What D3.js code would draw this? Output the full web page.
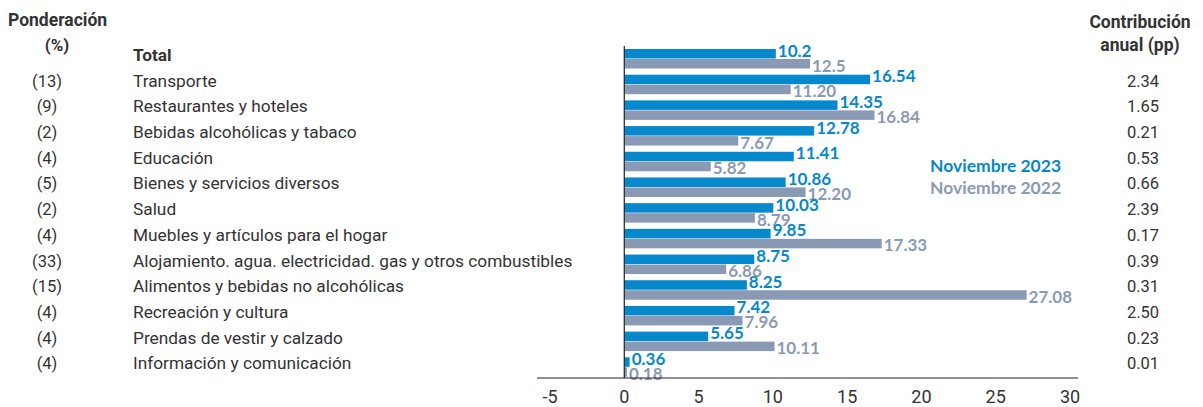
<!DOCTYPE html>
<html>
<head>
<meta charset="utf-8">
<script src="https://cdn.jsdelivr.net/npm/d3@7/dist/d3.min.js"></script>
<style>
  body { margin: 0; background: #fff; }
  text { font-family: Roboto, "Open Sans", sans-serif; }
  .val { font-family: Lato, Roboto, sans-serif; font-weight: bold; }
</style>
</head>
<body>
<svg id="chart" width="1203" height="407"></svg>
<script>
// categories, weights and contributions
var categories = ["Total", "Transporte", "Restaurantes y hoteles", "Bebidas alcohólicas y tabaco",
  "Educación", "Bienes y servicios diversos", "Salud", "Muebles y artículos para el hogar",
  "Alojamiento. agua. electricidad. gas y otros combustibles", "Alimentos y bebidas no alcohólicas",
  "Recreación y cultura", "Prendas de vestir y calzado", "Información y comunicación"];
var weights = ["", "(13)", "(9)", "(2)", "(4)", "(5)", "(2)", "(4)", "(33)", "(15)", "(4)", "(4)", "(4)"];
var nov2023 = [10.2, 16.54, 14.35, 12.78, 11.41, 10.86, 10.03, 9.85, 8.75, 8.25, 7.42, 5.65, 0.36];
var nov2022 = [12.5, 11.20, 16.84, 7.67, 5.82, 12.20, 8.79, 17.33, 6.86, 27.08, 7.96, 10.11, 0.18];
var contrib = ["", "2.34", "1.65", "0.21", "0.53", "0.66", "2.39", "0.17", "0.39", "0.31", "2.50", "0.23", "0.01"];
var xTicks = [-5, 0, 5, 10, 15, 20, 25, 30];

var blue = "#0588cc";
var grey = "#8a9ab4";
var ink = "#333333";

var svg = d3.select("#chart");

var x = d3.scaleLinear().domain([-5, 30]).range([550, 1070]);
var y = d3.scaleBand().domain(d3.range(categories.length)).range([44, 378]);
var barH = 9.5;

// headers
svg.append("text").attr("x", 8).attr("y", 26).attr("font-size", 17.5).attr("font-weight", "bold")
  .attr("fill", ink).text("Ponderación");
svg.append("text").attr("x", 57).attr("y", 51).attr("font-size", 17).attr("font-weight", "bold")
  .attr("text-anchor", "middle").attr("fill", ink).text("(%)");
svg.append("text").attr("x", 1140).attr("y", 28).attr("font-size", 17.5).attr("font-weight", "bold")
  .attr("text-anchor", "middle").attr("fill", ink).text("Contribución");
svg.append("text").attr("x", 1140).attr("y", 51).attr("font-size", 17.5).attr("font-weight", "bold")
  .attr("text-anchor", "middle").attr("fill", ink).text("anual (pp)");

var rows = svg.selectAll(".row")
  .data(categories)
  .enter()
  .append("g")
    .attr("class", "row")
    .attr("transform", function(d, i) { return "translate(0," + y(i) + ")"; });

rows.append("text")
  .attr("x", 133).attr("y", 17)
  .attr("font-size", 17.3)
  .attr("font-weight", function(d, i) { return i == 0 ? "bold" : "normal"; })
  .attr("fill", ink)
  .text(function(d) { return d; });

rows.append("text")
  .attr("x", 47).attr("y", 17).attr("text-anchor", "middle")
  .attr("font-size", 16.5).attr("fill", ink)
  .text(function(d, i) { return weights[i]; });

rows.append("text")
  .attr("x", 1143).attr("y", 17).attr("text-anchor", "middle")
  .attr("font-size", 16.5).attr("fill", ink)
  .text(function(d, i) { return contrib[i]; });

function fmt(v, i) { return i == 0 ? d3.format(".1f")(v) : d3.format(".2f")(v); }

// Nov 2023 bars
rows.append("rect")
  .attr("x", x(0)).attr("y", 5)
  .attr("width", function(d, i) { return x(nov2023[i]) - x(0); })
  .attr("height", barH).attr("fill", blue);

rows.append("text")
  .attr("class", "val")
  .attr("x", function(d, i) { return x(nov2023[i]) + 2; })
  .attr("y", 12.5)
  .attr("font-size", 17).attr("fill", blue)
  .text(function(d, i) { return fmt(nov2023[i], i); });

// Nov 2022 bars
rows.append("rect")
  .attr("x", x(0)).attr("y", 5 + barH + 0.5)
  .attr("width", function(d, i) { return x(nov2022[i]) - x(0); })
  .attr("height", barH).attr("fill", grey);

rows.append("text")
  .attr("class", "val")
  .attr("x", function(d, i) { return x(nov2022[i]) + 2; })
  .attr("y", 27.5)
  .attr("font-size", 17).attr("fill", grey)
  .text(function(d, i) { return fmt(nov2022[i], i); });

// axes
svg.append("line").attr("x1", x(0)).attr("x2", x(0)).attr("y1", 46).attr("y2", 378)
  .attr("stroke", "#222").attr("stroke-width", 1.2);
svg.append("line").attr("x1", 537).attr("x2", 1078).attr("y1", 378).attr("y2", 378)
  .attr("stroke", "#222").attr("stroke-width", 1.2);

svg.selectAll(".tick")
  .data(xTicks)
  .enter()
  .append("text")
    .attr("class", "tick")
    .attr("x", function(d) { return x(d); })
    .attr("y", 403)
    .attr("text-anchor", "middle")
    .attr("font-size", 18).attr("fill", ink)
    .text(function(d) { return d; });

// legend
svg.append("text").attr("class", "val").attr("x", 930).attr("y", 172).attr("font-size", 17.5)
  .attr("fill", blue).text("Noviembre 2023");
svg.append("text").attr("class", "val").attr("x", 930).attr("y", 194).attr("font-size", 17.5)
  .attr("fill", grey).text("Noviembre 2022");
</script>
</body>
</html>
